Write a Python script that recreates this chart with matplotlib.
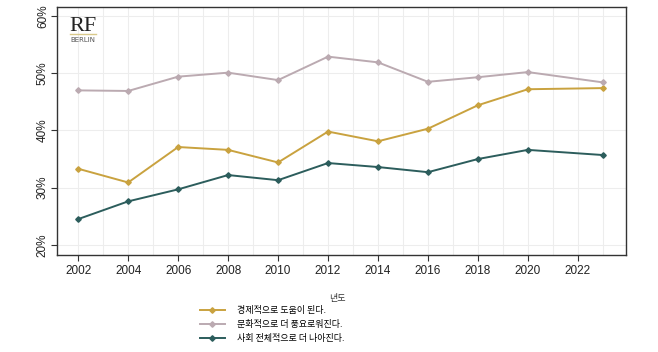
import matplotlib
matplotlib.use("Agg")
import matplotlib.pyplot as plt
from matplotlib.ticker import FuncFormatter, MultipleLocator

plt.rcParams["font.family"] = ["Noto Sans CJK KR", "DejaVu Sans"]

years = [2002, 2004, 2006, 2008, 2010, 2012, 2014, 2016, 2018, 2020, 2023]
econ = [33.3, 30.9, 37.1, 36.6, 34.4, 39.8, 38.1, 40.3, 44.4, 47.2, 47.4]
culture = [47.0, 46.9, 49.4, 50.1, 48.8, 52.9, 51.9, 48.5, 49.3, 50.2, 48.4]
society = [24.5, 27.6, 29.7, 32.2, 31.3, 34.3, 33.6, 32.7, 35.0, 36.6, 35.7]
labels = ["경제적으로 도움이 된다.", "문화적으로 더 풍요로워진다.", "사회 전체적으로 더 나아진다."]
colors = ["#C9A23F", "#BBAAB1", "#2C5D5C"]
xticks = [2002, 2004, 2006, 2008, 2010, 2012, 2014, 2016, 2018, 2020, 2022]

fig = plt.figure(figsize=(6.58, 3.52), dpi=100)
ax = fig.add_axes([0.087, 0.276, 0.864, 0.704])

for vals, lab, col in zip([econ, culture, society], labels, colors):
    ax.plot(years, vals, color=col, linewidth=1.4, marker="D", markersize=2.8,
            label=lab)

ax.set_xlim(2001.16, 2023.92)
ax.set_ylim(18.25, 61.57)
ax.set_xticks(xticks)
ax.xaxis.set_minor_locator(MultipleLocator(1))
ax.set_yticks([20, 30, 40, 50, 60])
ax.yaxis.set_major_formatter(FuncFormatter(lambda v, p: f"{v:.0f}%"))
ax.grid(True, which="major", color="#ededed", linewidth=0.8)
ax.grid(True, which="minor", axis="x", color="#ededed", linewidth=0.8)
ax.tick_params(axis="both", which="major", labelsize=8.5, length=4,
               color="#333333", labelcolor="#222222")
ax.tick_params(axis="x", which="minor", length=0)
ax.tick_params(axis="y", which="major", pad=2)
for t in ax.get_xticklabels() + ax.get_yticklabels():
    t.set_family("Liberation Sans")
for t in ax.get_yticklabels():
    t.set_rotation(90)
    t.set_va("center")
for s in ax.spines.values():
    s.set_color("#333333")
    s.set_linewidth(1.0)
ax.set_axisbelow(True)

# logo
ax.text(0.022, 0.96, "RF", transform=ax.transAxes, family="Liberation Serif",
        fontsize=16, color="#222222", ha="left", va="top")
ax.plot([0.022, 0.069], [0.892, 0.892], transform=ax.transAxes, color="#D9C98A",
        linewidth=1.0)
ax.text(0.0225, 0.878, "BERLIN", transform=ax.transAxes, fontsize=5,
        color="#555555", ha="left", va="top", family="DejaVu Sans")

fig.text(0.512, 0.152, "년도", fontsize=6.5, ha="center", va="center", color="#333333")
fig.legend(loc="upper left", bbox_to_anchor=(0.298, 0.14), frameon=False,
           fontsize=6.5, handlelength=2.8, handletextpad=1.3, labelspacing=0.55,
           borderaxespad=0)

fig.savefig("out.png", dpi=100)
